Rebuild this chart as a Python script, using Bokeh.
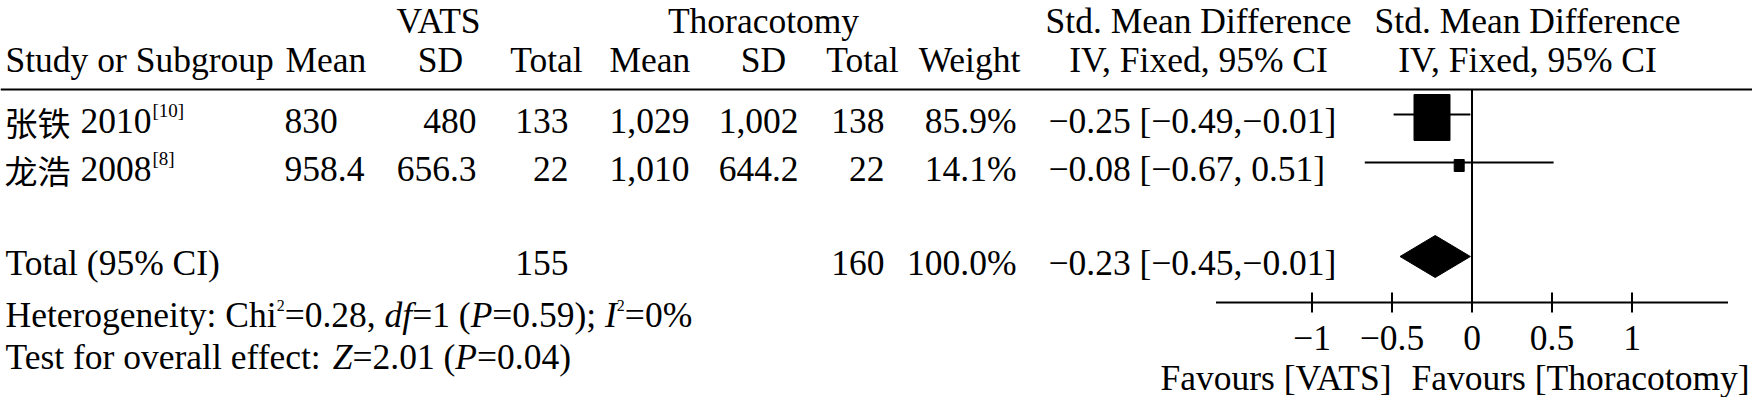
from bokeh.plotting import figure
from bokeh.models import Range1d, ColumnDataSource
from bokeh.embed import file_html
from bokeh.resources import INLINE

# ---------------- data ----------------
study_cjk = ["张铁", "龙浩"]
study_year = ["2010", "2008"]
study_ref = ["[10]", "[8]"]
vats_mean = [830, 958.4]
vats_sd = [480, 656.3]
vats_n = [133, 22]
thor_mean = [1029, 1010]
thor_sd = [1002, 644.2]
thor_n = [138, 22]
weight = [85.9, 14.1]
smd = [-0.25, -0.08]
ci_low = [-0.49, -0.67]
ci_high = [-0.01, 0.51]
total_vats_n = 155
total_thor_n = 160
total_weight = 100.0
total_smd = -0.23
total_low = -0.45
total_high = -0.01
het_chi2 = "0.28"
het_df = "1"
het_p = "0.59"
het_i2 = "0%"
z_value = "2.01"
z_p = "0.04"
axis_ticks = [-1, -0.5, 0, 0.5, 1]
axis_tick_labels = ["−1", "−0.5", "0", "0.5", "1"]
group_labels = ["VATS", "Thoracotomy"]
favours_labels = ["Favours [VATS]", "Favours [Thoracotomy]"]

# ---------------- layout / style ----------------
FONT = "Liberation Serif"
CJK_FONT = "Noto Sans CJK SC"
FS = 35.5
FSZ = "35.5px"
W, H = 1752, 397
ZERO_X = 1471.5     # x of effect 0
UNIT = 160.0        # px per effect unit
AXIS_MIN, AXIS_MAX = -1.6, 1.6
AXIS_Y = 302
LINE_Y = 89
Y_H1, Y_H2 = 20, 59
ROW_Y = [120, 168]
TOTAL_Y = 262
HET_Y, TEST_Y = 314, 356
TICK_LABEL_Y = 337
FAV_Y = 377
CI_X = 1048

TR = {' ': 250, '!': 333, '%': 833, '(': 333, ')': 333, ',': 250, '-': 333, '.': 250, '/': 278,
      ':': 278, ';': 278, '=': 564, '[': 333, ']': 333, '−': 564,
      'A': 722, 'B': 667, 'C': 667, 'D': 722, 'E': 611, 'F': 556, 'G': 722, 'H': 722, 'I': 333,
      'J': 389, 'K': 722, 'L': 611, 'M': 889, 'N': 722, 'O': 722, 'P': 556, 'Q': 722, 'R': 667,
      'S': 556, 'T': 611, 'U': 722, 'V': 722, 'W': 944, 'X': 722, 'Y': 722, 'Z': 611,
      'a': 444, 'b': 500, 'c': 444, 'd': 500, 'e': 444, 'f': 333, 'g': 500, 'h': 500, 'i': 278,
      'j': 278, 'k': 500, 'l': 278, 'm': 778, 'n': 500, 'o': 500, 'p': 500, 'q': 500, 'r': 333,
      's': 389, 't': 278, 'u': 500, 'v': 500, 'w': 722, 'x': 500, 'y': 500, 'z': 444}
TI = dict(TR)
TI.update({'d': 500, 'f': 278, 'P': 611, 'I': 333, 'Z': 556})


def tw(s, size, italic=False):
    tab = TI if italic else TR
    return sum(tab.get(c, 500) for c in s) * size / 1000.0


def num(v):
    s = f"{v:,.1f}" if v != int(v) else f"{int(v):,}"
    return s.replace("-", "−")


def ci_text(m, lo, hi):
    return (f"{m:.2f} [{lo:.2f},{hi: .2f}]").replace("-", "−")


p = figure(width=W, height=H, output_backend="svg", toolbar_location=None,
           x_range=Range1d(-ZERO_X / UNIT, (W - ZERO_X) / UNIT),
           y_range=Range1d(H, 0),
           x_axis_location=None, y_axis_location=None,
           min_border_left=0, min_border_right=0, min_border_top=0, min_border_bottom=0)
p.outline_line_color = None
p.xgrid.visible = False
p.ygrid.visible = False
p.background_fill_color = "white"
p.border_fill_color = "white"
p.extra_x_ranges = {"px": Range1d(0, W)}

cells = dict(x=[], y=[], text=[], align=[], font=[], size=[], style=[])


def cell(x, y, text, align="left", font=FONT, size=FSZ, style="normal"):
    cells["x"].append(x)
    cells["y"].append(y)
    cells["text"].append(text)
    cells["align"].append(align)
    cells["font"].append(font)
    cells["size"].append(size)
    cells["style"].append(style)


def rich(x, y, segs):
    for text, italic, size, off in segs:
        cell(x, y + off, text, size=f"{size}px", style="italic" if italic else "normal")
        x += tw(text, size, italic)


# header row 1
cell(438, Y_H1, group_labels[0], "center")
cell(763, Y_H1, group_labels[1], "center")
cell(1198, Y_H1, "Std. Mean Difference", "center")
cell(1527, Y_H1, "Std. Mean Difference", "center")
# header row 2
cell(5, Y_H2, "Study or Subgroup")
cell(285, Y_H2, "Mean")
cell(440, Y_H2, "SD", "center")
cell(546, Y_H2, "Total", "center")
cell(609, Y_H2, "Mean")
cell(763, Y_H2, "SD", "center")
cell(862, Y_H2, "Total", "center")
cell(969, Y_H2, "Weight", "center")
cell(1198, Y_H2, "IV, Fixed, 95% CI", "center")
cell(1527, Y_H2, "IV, Fixed, 95% CI", "center")

CJK_SIZE = 33
for i, y in enumerate(ROW_Y):
    cell(4, y + 1, study_cjk[i], font=CJK_FONT, size=f"{CJK_SIZE}px")
    xy = 5 + 2 * CJK_SIZE + 0.25 * FS
    cell(xy, y, study_year[i])
    cell(xy + tw(study_year[i], FS) + 1, y - 10, study_ref[i], size="19px")
    cell(284, y, num(vats_mean[i]))
    cell(476, y, num(vats_sd[i]), "right")
    cell(568, y, num(vats_n[i]), "right")
    cell(609, y, num(thor_mean[i]))
    cell(798, y, num(thor_sd[i]), "right")
    cell(884, y, num(thor_n[i]), "right")
    cell(1016, y, f"{weight[i]:.1f}%", "right")
    cell(CI_X, y, ci_text(smd[i], ci_low[i], ci_high[i]))

cell(5, TOTAL_Y, "Total (95% CI)")
cell(568, TOTAL_Y, num(total_vats_n), "right")
cell(884, TOTAL_Y, num(total_thor_n), "right")
cell(1016, TOTAL_Y, f"{total_weight:.1f}%", "right")
cell(CI_X, TOTAL_Y, ci_text(total_smd, total_low, total_high))

SUP = 16
rich(5, HET_Y, [("Heterogeneity: Chi", False, FS, 0), ("2", False, SUP, -9),
                (f"={het_chi2}, ", False, FS, 0), ("df", True, FS, 0),
                (f"={het_df} (", False, FS, 0), ("P", True, FS, 0),
                (f"={het_p}); ", False, FS, 0), ("I", True, FS, 0), ("2", False, SUP, -9),
                (f"={het_i2}", False, FS, 0)])
rich(5, TEST_Y, [("Test for overall effect: ", False, FS, 0), ("Z", True, FS, 0),
                 (f"={z_value} (", False, FS, 0), ("P", True, FS, 0),
                 (f"={z_p})", False, FS, 0)])

cell(1391, FAV_Y, favours_labels[0], "right")
cell(1411, FAV_Y, favours_labels[1], "left")

src = ColumnDataSource(cells)
p.text(x="x", y="y", text="text", source=src, x_range_name="px",
       text_align="align", text_baseline="middle", text_font="font",
       text_font_size="size", text_font_style="style", text_color="black")

# header rule and line of no effect
p.segment(x0=[0], x1=[W], y0=[LINE_Y], y1=[LINE_Y], x_range_name="px",
          line_color="black", line_width=2)
p.segment(x0=[0], x1=[0], y0=[LINE_Y], y1=[AXIS_Y], line_color="black", line_width=2)

# effect axis (line, ticks, tick labels) drawn on the effect scale
p.segment(x0=[AXIS_MIN], x1=[AXIS_MAX], y0=[AXIS_Y], y1=[AXIS_Y], line_color="black", line_width=2)
p.segment(x0=axis_ticks, x1=axis_ticks, y0=[AXIS_Y - 10] * len(axis_ticks),
          y1=[AXIS_Y + 10] * len(axis_ticks), line_color="black", line_width=2)
p.text(x=axis_ticks, y=[TICK_LABEL_Y] * len(axis_ticks), text=axis_tick_labels,
       text_align="center", text_baseline="middle", text_font={"value": FONT},
       text_font_size={"value": FSZ}, text_color="black")

# study CIs and squares
p.segment(x0=ci_low, x1=ci_high, y0=[y - 6 for y in ROW_Y], y1=[y - 6 for y in ROW_Y],
          line_color="black", line_width=2)
p.rect(x=smd, y=[y - 3 for y in ROW_Y],
       width=[0.362 * w + 4.9 for w in weight], height=[0.4735 * w + 5.3 for w in weight],
       width_units="screen", fill_color="black", line_color="black")

# pooled diamond
dy = TOTAL_Y - 6
p.patch(x=[total_low, total_smd, total_high, total_smd], y=[dy, dy - 21, dy, dy + 21],
        fill_color="black", line_color="black")

open("out.html", "w").write(file_html(p, INLINE))
